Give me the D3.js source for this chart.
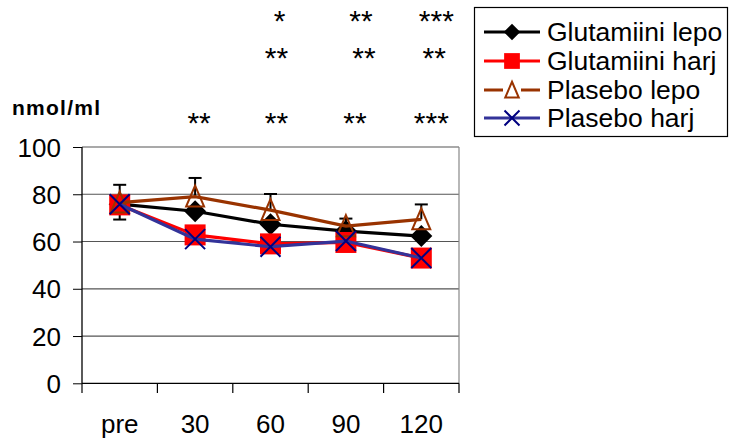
<!DOCTYPE html>
<html><head><meta charset="utf-8">
<script src="https://cdn.jsdelivr.net/npm/d3@7"></script>
<style>body{margin:0;background:#fff}svg{display:block}text{font-family:Arial,"Liberation Sans",sans-serif}</style>
</head><body><svg id="c" width="733" height="439"></svg>
<script>
const categories = ["pre","30","60","90","120"];
const glutLepo = [75.8, 72.8, 67.3, 64.4, 62.3];
const glutHarj = [75.5, 62.8, 59.0, 59.6, 53.0];
const plaLepo  = [76.5, 79.0, 73.3, 66.5, 69.4];
const plaHarj  = [75.8, 61.0, 57.8, 60.2, 53.0];
const errUp    = [84.0, 86.9, 80.1, 69.7, 75.7];
const errDown  = [69.3, null, null, null, null];
const yTicks   = [0, 20, 40, 60, 80, 100];
const starRow1 = ["", "", "*", "**", "***"];
const starRow2 = ["", "", "**", "**", "**"];
const starRow3 = ["", "**", "**", "**", "***"];
const seriesNames = ["Glutamiini lepo","Glutamiini harj","Plasebo lepo","Plasebo harj"];

const svg = d3.select("#c");
const x = d3.scaleBand().domain(categories).range([82, 459]);
const y = d3.scaleLinear().domain([0, 100]).range([383.3, 147]);
const cx = d => x(d) + x.bandwidth()/2;

// gridlines
svg.append("g").selectAll("line").data(yTicks.filter(t=>t>0)).join("line")
  .attr("x1", 82).attr("x2", 459).attr("y1", d=>y(d)).attr("y2", d=>y(d))
  .attr("stroke", "#555").attr("stroke-width", 1.2);
// right border
svg.append("line").attr("x1",459).attr("x2",459).attr("y1",y(100)).attr("y2",y(0)).attr("stroke","#888").attr("stroke-width",1.2);

// axes
const ya = svg.append("g").attr("transform","translate(82,0)")
  .call(d3.axisLeft(y).tickValues(yTicks).tickSize(9).tickPadding(12));
ya.select(".domain").attr("stroke","#000").attr("stroke-width",1.3).attr("d","M0,147V383.3");
ya.selectAll(".tick line").attr("stroke","#000");
ya.selectAll("text").attr("font-size",26).attr("fill","#000").attr("dy","0.35em").attr("font-family","Arial, Liberation Sans, sans-serif");

const xa = svg.append("g").attr("transform","translate(0,383.3)")
  .call(d3.axisBottom(x).tickSize(0).tickPadding(0));
xa.select(".domain").attr("stroke","#000").attr("stroke-width",1.3).attr("d","M82,0H459");
xa.selectAll(".tick text").attr("font-size",26).attr("fill","#000").attr("y",50).attr("dy",0).attr("font-family","Arial, Liberation Sans, sans-serif");
// tick marks at band boundaries
svg.append("g").selectAll("line").data(categories.concat(["end"])).join("line")
  .attr("x1",(d,i)=> i<categories.length ? x(d) : 459).attr("x2",(d,i)=> i<categories.length ? x(d) : 459)
  .attr("y1",383.3).attr("y2",393).attr("stroke","#000").attr("stroke-width",1.2);

// y label
svg.append("text").attr("x",12).attr("y",115).attr("font-size",21).attr("font-weight","bold").attr("textLength",88).text("nmol/ml");

// error bars (black)
const eb = svg.append("g").attr("stroke","#000").attr("stroke-width",2);
categories.forEach((c,i)=>{
  const xc = cx(c);
  eb.append("line").attr("x1",xc).attr("x2",xc).attr("y1",y(plaLepo[i])).attr("y2",y(errUp[i]));
  eb.append("line").attr("x1",xc-6.5).attr("x2",xc+6.5).attr("y1",y(errUp[i])).attr("y2",y(errUp[i]));
  if (errDown[i] != null) {
    eb.append("line").attr("x1",xc).attr("x2",xc).attr("y1",y(plaLepo[i])).attr("y2",y(errDown[i]));
    eb.append("line").attr("x1",xc-6.5).attr("x2",xc+6.5).attr("y1",y(errDown[i])).attr("y2",y(errDown[i]));
  }
});

const series = [
  {name: seriesNames[0], vals: glutLepo, color:"#000000", marker:"diamond"},
  {name: seriesNames[1], vals: glutHarj, color:"#FF0000", marker:"square"},
  {name: seriesNames[2], vals: plaLepo,  color:"#993300", marker:"triangle"},
  {name: seriesNames[3], vals: plaHarj,  color:"#333399", marker:"x"}
];
const line = d3.line().x((d,i)=>cx(categories[i])).y(d=>y(d));

function drawMarker(g, type, px, py, scale) {
  const s = scale || 1;
  if (type==="diamond") {
    g.append("path").attr("d",`M${px},${py-11*s}L${px+11*s},${py}L${px},${py+11*s}L${px-11*s},${py}Z`).attr("fill","#000");
  } else if (type==="square") {
    const h = 10.5*s;
    g.append("rect").attr("x",px-h).attr("y",py-h).attr("width",2*h).attr("height",2*h).attr("fill","#FF0000");
  } else if (type==="triangle") {
    g.append("path").attr("d",`M${px},${py-11*s}L${px+9*s},${py+10*s}L${px-9*s},${py+10*s}Z`)
      .attr("fill","none").attr("stroke","#993300").attr("stroke-width",2);
  } else if (type==="x") {
    const h = 10*s;
    g.append("path").attr("d",`M${px-h},${py-h}L${px+h},${py+h}M${px-h},${py+h}L${px+h},${py-h}`)
      .attr("stroke","#000080").attr("stroke-width",2).attr("fill","none");
  }
}

series.forEach(s=>{
  const g = svg.append("g");
  g.append("path").datum(s.vals).attr("d",line).attr("fill","none").attr("stroke",s.color).attr("stroke-width",3.2);
  s.vals.forEach((v,i)=> drawMarker(g, s.marker, cx(categories[i]), y(v), 1));
});

// significance stars
const starRows = [[starRow1, 31], [starRow2, 68], [starRow3, 133]];
const starOffsets = [[0, 0, 9, 15, 15],[0,0,6,18,13],[0,4,6,9,10]];
starRows.forEach(([row, yy], r)=>{
  svg.append("g").selectAll("text").data(row).join("text")
    .attr("x",(d,i)=> cx(categories[i]) + starOffsets[r][i])
    .attr("y", yy).attr("text-anchor","middle").attr("font-size",30).text(d=>d);
});

// legend
const lg = svg.append("g");
lg.append("rect").attr("x",474.5).attr("y",7.5).attr("width",253).attr("height",129).attr("fill","#fff").attr("stroke","#000").attr("stroke-width",1.2);
const legY = [32, 61, 90, 118];
series.forEach((s,i)=>{
  lg.append("line").attr("x1",484).attr("x2",540).attr("y1",legY[i]).attr("y2",legY[i]).attr("stroke",s.color).attr("stroke-width",3.2);
  if (s.marker==="triangle") {
    lg.append("rect").attr("x",503).attr("y",legY[i]-10).attr("width",18).attr("height",20).attr("fill","#fff");
  }
  drawMarker(lg, s.marker, 512, legY[i], 0.75);
  lg.append("text").attr("x",547).attr("y",legY[i]).attr("dy","0.35em").attr("font-size",26.5).text(s.name);
});
</script></body></html>
